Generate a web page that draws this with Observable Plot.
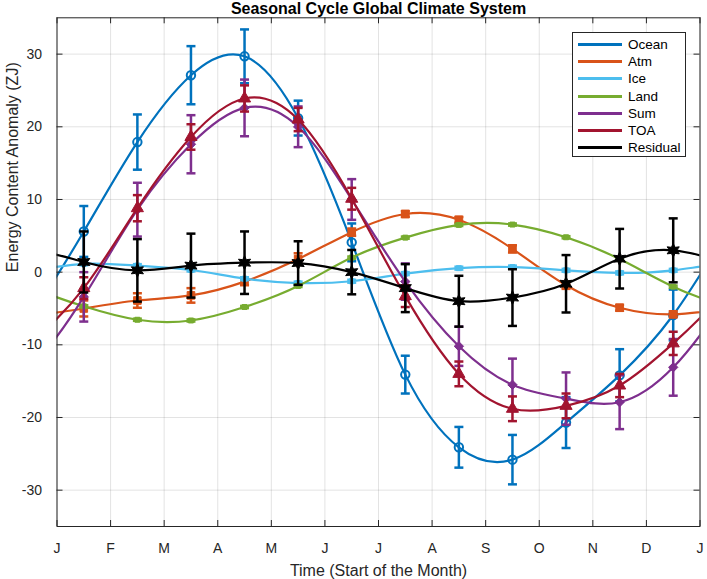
<!DOCTYPE html>
<html><head><meta charset="utf-8">
<script src="https://cdn.jsdelivr.net/npm/d3@7"></script>
<script src="https://cdn.jsdelivr.net/npm/@observablehq/plot@0.6"></script>
<style>
body{margin:0;background:#fff;}
#wrap{position:relative;width:707px;height:579px;font-family:"Liberation Sans",Arial,sans-serif;}
#legend{position:absolute;left:572px;top:32px;width:114px;height:125px;border:1px solid #262626;background:#fff;box-sizing:border-box;padding-top:3px;}
.row{display:flex;align-items:center;height:17.2px;}
.sw{width:44px;height:3px;margin-left:5px;margin-right:6px;}
.lab{font-size:13.5px;color:#000;line-height:13px;}
</style></head><body><div id="wrap"></div>
<script>
// ---- data ----
const monthLabels = ["J","F","M","A","M","J","J","A","S","O","N","D","J"];
const monthMid = [0.5,1.5,2.5,3.5,4.5,5.5,6.5,7.5,8.5,9.5,10.5,11.5];
const yTicks = [-30,-20,-10,0,10,20,30];
const seriesNames = ["Ocean","Atm","Ice","Land","Sum","TOA","Residual"];

const ocean    = [5.6, 17.9, 27.1, 29.7, 21.2, 4.1, -14.1, -24.1, -25.8, -20.7, -14.2, -5.9];
const oceanErr = [3.5, 3.8, 4.0, 3.7, 2.4, 2.6, 2.6, 2.8, 3.4, 3.5, 3.6, 3.5];
const atm      = [-5.0, -3.9, -3.2, -1.3, 1.8, 5.5, 8.0, 7.2, 3.2, -1.8, -4.9, -5.8];
const atmErr   = [1.1, 1.0, 1.0, 0.5, 0.8, 0.5, 0.4, 0.4, 0.5, 0.5, 0.4, 0.4];
const ice      = [1.15, 0.9, 0.3, -0.9, -1.5, -1.25, -0.2, 0.55, 0.7, 0.25, -0.1, 0.25];
const iceErr   = [0.2, 0.2, 0.2, 0.2, 0.2, 0.2, 0.2, 0.2, 0.2, 0.2, 0.2, 0.2];
const land     = [-4.7, -6.55, -6.65, -4.8, -1.9, 2.0, 4.75, 6.5, 6.55, 4.8, 1.8, -2.0];
const landErr  = [0.15, 0.15, 0.15, 0.15, 0.15, 0.15, 0.15, 0.15, 0.15, 0.15, 0.15, 0.15];
const sum      = [-3.4, 8.6, 17.6, 22.6, 20.0, 10.0, -1.3, -10.2, -15.5, -17.4, -17.9, -13.1];
const sumErr   = [3.4, 3.7, 4.0, 3.9, 2.8, 2.8, 2.5, 2.7, 3.6, 3.6, 3.7, 3.9];
const toa      = [-2.2, 8.8, 18.6, 23.9, 21.0, 10.1, -3.3, -14.0, -18.8, -18.4, -15.6, -9.8];
const toaErr   = [1.5, 1.8, 1.75, 1.8, 1.6, 1.5, 1.5, 1.7, 1.7, 1.7, 1.6, 1.6];
const resid    = [1.4, 0.25, 0.9, 1.3, 1.25, 0.0, -2.2, -4.0, -3.5, -1.6, 1.85, 3.0];
const residErr = [4.2, 4.3, 4.4, 4.3, 3.0, 3.05, 3.3, 3.5, 3.9, 3.95, 4.1, 4.4];

const titleText = "Seasonal Cycle Global Climate System";
const xLabel = "Time (Start of the Month)";
const yLabel = "Energy Content Anomaly (ZJ)";

// ---- styles ----
const capSym = {draw(ctx, size){ const w = Math.sqrt(size/Math.PI); ctx.moveTo(-w,0); ctx.lineTo(w,0); }};
const hexagram = {draw(ctx, size){
  const R = Math.sqrt(size/Math.PI), r = R*0.5;
  for (let k=0;k<12;k++){ const a = -Math.PI/2 + k*Math.PI/6; const rr = k%2===0?R:r;
    const px = rr*Math.cos(a), py = rr*Math.sin(a); if(k===0) ctx.moveTo(px,py); else ctx.lineTo(px,py);}
  ctx.closePath(); }};
const styles = [
  {color:"#0072BD", symbol:"circle", r:4.2, fill:"none"},
  {color:"#D95319", symbol:"square", r:4.3, fill:"#D95319"},
  {color:"#4DBEEE", symbol:"square", r:2.8, fill:"#4DBEEE"},
  {color:"#77AC30", symbol:"square", r:2.8, fill:"#77AC30"},
  {color:"#7E2F8E", symbol:"diamond2", r:4.2, fill:"#7E2F8E"},
  {color:"#A2142F", symbol:"triangle", r:4.5, fill:"#A2142F"},
  {color:"#000000", symbol:hexagram, r:7, fill:"#000000"}
];
const seriesValues = [ocean, atm, ice, land, sum, toa, resid];
const seriesErrors = [oceanErr, atmErr, iceErr, landErr, sumErr, toaErr, residErr];

const W=707, H=579, mL=56.5, mR=7.5, mT=17.3, mB=53;
const innerW = W-mL-mR, innerH = H-mT-mB;
const monthPos = monthLabels.map((_, i) => i);
const ink = "#262626";

const marks = [
  Plot.gridX(monthPos, {x:d=>d, stroke:ink, strokeOpacity:0.13}),
  Plot.gridY(yTicks, {y:d=>d, stroke:ink, strokeOpacity:0.13}),
];

seriesValues.forEach((vals, s) => {
  const st = styles[s], errs = seriesErrors[s];
  const pts = vals.map((v,i)=>({x:monthMid[i], y:v, lo:v-errs[i], hi:v+errs[i]}));
  const n = vals.length;
  const wrapped = d3.range(-2, n+2).map(i => {
    const j = ((i % n) + n) % n, k = Math.floor(i / n);
    return {x: monthMid[j] + k*n, y: vals[j]};
  });
  marks.push(Plot.line(wrapped, {x:"x", y:"y", curve:"natural", stroke:st.color, strokeWidth:2.2, clip:true}));
  marks.push(Plot.ruleX(pts, {x:"x", y1:"lo", y2:"hi", stroke:st.color, strokeWidth:2.5}));
  marks.push(Plot.dot(pts, {x:"x", y:"lo", symbol:capSym, r:4.5, stroke:st.color, strokeWidth:2.5}));
  marks.push(Plot.dot(pts, {x:"x", y:"hi", symbol:capSym, r:4.5, stroke:st.color, strokeWidth:2.5}));
  marks.push(Plot.dot(pts, {x:"x", y:"y", symbol:st.symbol, r:st.r, fill:st.fill, stroke:st.color, strokeWidth: st.fill==="none"?2:1}));
});

marks.push(
  Plot.frame({stroke:ink, strokeWidth:1}),
  Plot.tickX(monthPos, {x:d=>d, stroke:ink, insetTop: innerH-6}),
  Plot.tickX(monthPos, {x:d=>d, stroke:ink, insetBottom: innerH-6}),
  Plot.tickY(yTicks, {y:d=>d, stroke:ink, insetRight: innerW-6}),
  Plot.tickY(yTicks, {y:d=>d, stroke:ink, insetLeft: innerW-6}),
  Plot.axisX(monthPos, {tickFormat:i=>monthLabels[i], tickSize:0, tickPadding:17, fontSize:14, fill:ink, label:null}),
  Plot.axisY(yTicks, {tickFormat:d=>String(d), tickSize:0, tickPadding:15, fontSize:14, fill:ink, label:null}),
  Plot.text([titleText], {text:d=>d, frameAnchor:"top", dy:-9, fontWeight:"bold", fontSize:16, fill:"#000", lineAnchor:"middle"}),
  Plot.text([xLabel], {text:d=>d, frameAnchor:"bottom", dy:44, fontSize:16, fill:ink, lineAnchor:"middle"}),
  Plot.text([yLabel], {text:d=>d, frameAnchor:"left", dx:-44, rotate:-90, fontSize:16, fill:ink, lineAnchor:"middle"})
);

const chart = Plot.plot({
  width:W, height:H, marginLeft:mL, marginRight:mR, marginTop:mT, marginBottom:mB,
  x:{domain:[0,12]}, y:{domain:[-35,35]},
  style:{fontFamily:'"Liberation Sans", Arial, sans-serif', background:"#fff", overflow:"visible"},
  marks
});
const wrap = document.getElementById("wrap");
wrap.appendChild(chart);

// legend
const leg = document.createElement("div");
leg.id = "legend";
seriesNames.forEach((name, s) => {
  const row = document.createElement("div"); row.className = "row";
  const sw = document.createElement("div"); sw.className = "sw"; sw.style.background = styles[s].color;
  const lab = document.createElement("span"); lab.className = "lab"; lab.textContent = name;
  row.appendChild(sw); row.appendChild(lab); leg.appendChild(row);
});
wrap.appendChild(leg);
</script></body></html>
